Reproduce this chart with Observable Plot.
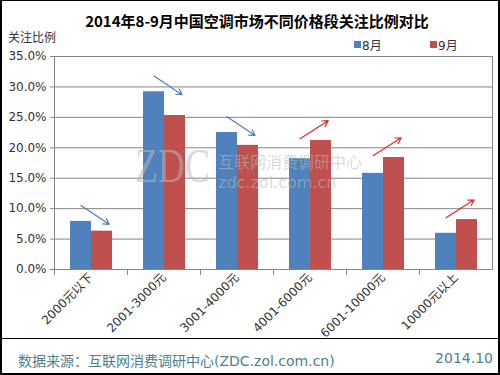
<!DOCTYPE html>
<html>
<head>
<meta charset="utf-8">
<script src="https://cdn.jsdelivr.net/npm/d3@7"></script>
<script src="https://cdn.jsdelivr.net/npm/@observablehq/plot@0.6"></script>
<style>
  html, body { margin: 0; padding: 0; background: #fff; }
  #wrap { position: relative; width: 500px; height: 375px; overflow: hidden; background: #fff;
          font-family: "DejaVu Sans", "Noto Sans CJK SC", sans-serif; }
  #wrap > * { position: absolute; }
  #border { left: 0; top: 0; width: 500px; height: 375px; box-sizing: border-box;
            border: 2px solid #000; border-top: 1px solid #000; pointer-events: none; }
  #title { top: 10px; left: 14px; width: 486px; text-align: center; font-size: 15px; font-weight: bold;
           font-family: "Noto Sans CJK SC", sans-serif; color: #000; }
  #ylabel { left: 8px; top: 28px; font-size: 12px; color: #333; font-family: "Noto Sans CJK SC", sans-serif; }
  .sw { width: 7px; height: 7px; }
  .lg { font-size: 12px; color: #333; }
  #sep { left: 2px; top: 338px; width: 496px; height: 1px; background: #000; }
  #src { left: 18px; top: 350px; font-size: 14px; color: #4d7f8e; }
  #date { right: 7px; top: 350px; font-size: 14px; color: #4d7f8e; }
  .wm { color: rgba(185,185,185,0.55); pointer-events: none; white-space: nowrap; }
  #chart svg { overflow: visible; }
</style>
</head>
<body>
<div id="wrap">
  <div id="chart" style="left:0;top:0;"></div>
  <div class="wm" style="left:135px;top:142px;font-size:48px;line-height:48px;font-family:'Liberation Serif',serif;transform:scaleX(0.78);transform-origin:left top;">ZDC</div>
  <div class="wm" style="left:218px;top:153px;font-size:16px;line-height:16px;font-family:'Noto Sans CJK SC',sans-serif;">互联网消费调研中心</div>
  <div class="wm" style="left:218px;top:175px;font-size:16px;line-height:16px;">zdc.zol.com.cn</div>
  <div id="title">2014年8-9月中国空调市场不同价格段关注比例对比</div>
  <div id="ylabel">关注比例</div>
  <div class="sw" id="sw1" style="left:354px;top:41px;"></div>
  <div class="lg" id="lg1" style="left:362px;top:36px;"></div>
  <div class="sw" id="sw2" style="left:430px;top:41px;"></div>
  <div class="lg" id="lg2" style="left:438px;top:36px;"></div>
  <div id="sep"></div>
  <div id="src">数据来源：互联网消费调研中心(ZDC.zol.com.cn)</div>
  <div id="date">2014.10</div>
  <div id="border"></div>
</div>
<script>
const categories = ["2000元以下", "2001-3000元", "3001-4000元", "4001-6000元", "6001-10000元", "10000元以上"];
const months = ["8月", "9月"];
const aug = [0.079, 0.292, 0.225, 0.182, 0.158, 0.0595];
const sep = [0.063, 0.253, 0.204, 0.212, 0.184, 0.082];
const yTicks = [0, 0.05, 0.10, 0.15, 0.20, 0.25, 0.30, 0.35];
const colors = ["#4F81BD", "#C0504D"];

const table = [];
categories.forEach((c, i) => {
  table.push({cat: c, month: months[0], value: aug[i]});
  table.push({cat: c, month: months[1], value: sep[i]});
});

// trend arrows derived from the two values of each price band
const arrows = categories.map((c, i) => {
  const a = aug[i], b = sep[i], top = Math.max(a, b);
  const down = b < a;
  return {cat: c, y1: down ? top + 0.026 : top + 0.003, y2: down ? top + 0.003 : top + 0.025,
          color: down ? "#4a7fc0" : "#e3262b"};
});

document.getElementById("sw1").style.background = colors[0];
document.getElementById("sw2").style.background = colors[1];
document.getElementById("lg1").textContent = months[0];
document.getElementById("lg2").textContent = months[1];

const chart = Plot.plot({
  width: 500,
  height: 338,
  marginTop: 56,
  marginLeft: 54,
  marginRight: 8,
  marginBottom: 69,
  style: {fontFamily: "'DejaVu Sans', 'Noto Sans CJK SC', sans-serif", fontSize: "12px", color: "#333", background: "transparent", overflow: "visible"},
  fx: {domain: categories, padding: 0, label: null},
  x: {domain: months, paddingInner: 0, paddingOuter: 0.738, axis: null},
  y: {domain: [0, 0.35], label: null},
  color: {domain: months, range: colors},
  marks: [
    Plot.gridY(yTicks, {stroke: "#868686", strokeOpacity: 1}),
    Plot.barY(table, {fx: "cat", x: "month", y: "value", fill: "month"}),
    Plot.arrow(arrows, {fx: "cat", x1: () => months[0], x2: () => months[1], y1: "y1", y2: "y2",
                        stroke: "color", strokeWidth: 1.2, headLength: 8, insetEnd: -8.5}),
    Plot.frame({stroke: "#868686", facet: "super"}),
    Plot.frame({anchor: "left", stroke: "#868686", insetTop: 213, insetBottom: -5}),
    Plot.axisY(yTicks, {tickFormat: ".1%", tickSize: 4, tickPadding: 4, stroke: "#868686", fill: "#333", fontSize: 12, label: null}),
    Plot.axisFx({anchor: "bottom", tickSize: 0, tickRotate: -45, tickPadding: 6, fontSize: 12, fill: "#333", label: null})
  ]
});
document.getElementById("chart").appendChild(chart);
</script>
</body>
</html>
